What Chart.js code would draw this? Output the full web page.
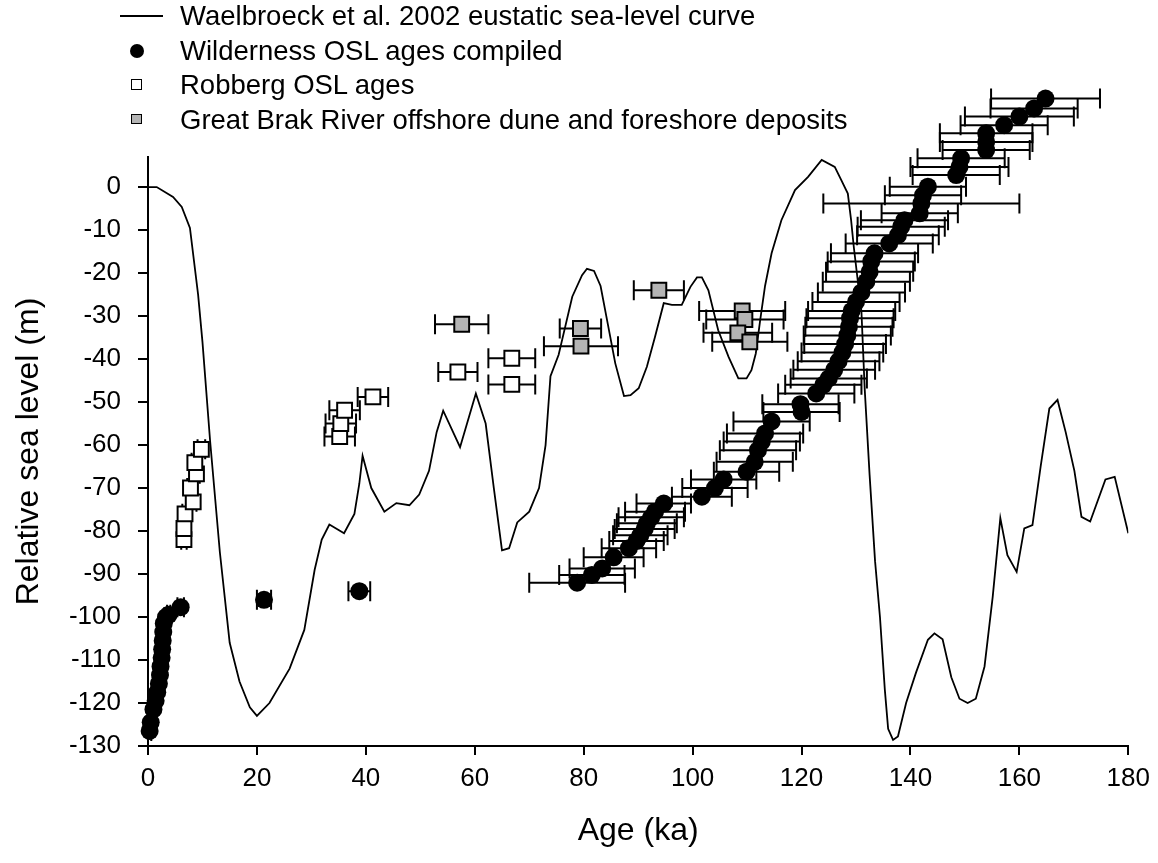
<!DOCTYPE html>
<html>
<head>
<meta charset="utf-8">
<script src="https://cdn.jsdelivr.net/npm/chart.js@4"></script>
<style>
  body { margin: 0; background: #fff; font-family: "Liberation Sans", Arial, sans-serif; }
  #wrap { position: relative; width: 1158px; height: 863px; }
  #legend { position: absolute; left: 114px; top: -1px; font-size: 27.5px; color: #000; }
  #legend .row { height: 34.5px; line-height: 34.5px; display: flex; align-items: center; white-space: nowrap; }
  #legend .sym { width: 66px; height: 34px; position: relative; display: inline-block; }
  #legend .line { position: absolute; left: 6px; top: 16px; width: 43px; border-top: 2px solid #000; }
  #legend .dot { position: absolute; left: 16px; top: 10px; width: 14px; height: 14px; border-radius: 50%; background: #000; }
  #legend .sq { position: absolute; left: 17px; top: 11px; width: 8.5px; height: 8.5px; border: 1.5px solid #000; }
</style>
</head>
<body>
<div id="wrap">
  <canvas id="chart" width="1158" height="863"></canvas>
  <div id="legend">
    <div class="row"><span class="sym"><span class="line"></span></span>Waelbroeck et al. 2002 eustatic sea-level curve</div>
    <div class="row"><span class="sym"><span class="dot"></span></span>Wilderness OSL ages compiled</div>
    <div class="row"><span class="sym"><span class="sq" style="background:#fff"></span></span>Robberg OSL ages</div>
    <div class="row"><span class="sym"><span class="sq" style="background:#b4b4b4"></span></span>Great Brak River offshore dune and foreshore deposits</div>
  </div>
</div>
<script>
// Waelbroeck et al. 2002 curve (age ka, sea level m)
const curveAge = [0, 1.6, 4.6, 6.2, 7.7, 9.2, 10, 11.4, 13.2, 15, 16.8, 18.7, 20, 22.3, 26, 28.7, 30.6, 31.9, 33.3, 36, 37.9, 38.8, 39.4, 41, 43.4, 45.6, 48, 49.8, 51.6, 53, 54.2, 57.3, 60.2, 62, 63.5, 65, 66.3, 67.8, 70, 71.8, 73, 73.9, 75.4, 77.9, 79.7, 80.6, 81.9, 83.1, 84.3, 85.8, 87.4, 88.6, 90.1, 91.6, 93.1, 94.7, 96.2, 98, 99.6, 100.8, 101.7, 102.9, 104.7, 106.6, 108.4, 109.9, 110.8, 111.6, 112.4, 113.3, 114.5, 116.3, 118.8, 121.2, 123.7, 126.1, 127.3, 128.5, 129.1, 129.6, 131, 131.6, 132.5, 133.5, 134.4, 135.3, 135.9, 136.8, 137.7, 139.2, 141, 143.2, 144.4, 145.9, 147.5, 149, 150.5, 152, 153.6, 155.1, 156.5, 157.8, 159.5, 160.9, 162.4, 163.9, 165.5, 167, 168.5, 170.1, 171.4, 173, 175.8, 177.5, 180];
const curveLevel = [0, 0, -2.3, -4.6, -9.5, -25, -36, -59, -85, -106, -115, -121, -123, -120, -112, -103, -89, -82, -78.5, -80.5, -76, -69, -62.5, -70, -75.5, -73.5, -74, -71.5, -66, -57, -52, -60.5, -48, -55, -70, -84.5, -84, -78, -75.5, -70, -60, -44, -39, -25.5, -20.5, -19, -19.5, -23, -31, -41, -48.6, -48.4, -46.8, -41.8, -34.8, -27, -27.4, -27.4, -23.2, -21, -21, -24, -33.3, -39.5, -44.5, -44.5, -42.6, -38.7, -31, -23, -15.4, -7.7, -0.7, 2.4, 6.3, 4.7, 1.6, -1.5, -7.7, -14, -29, -47, -67, -87, -100, -117, -126, -128.6, -127.8, -120, -113, -105.3, -103.8, -105.2, -114, -119, -120, -119, -111.5, -95.3, -77, -85.6, -89.5, -79.4, -78.6, -65, -51.5, -49.5, -57, -66, -76.7, -77.8, -68, -67.4, -80.5];

// Wilderness OSL ages compiled
const wildAge = [0.3, 0.5, 1.0, 1.4, 1.7, 2.0, 2.2, 2.3, 2.5, 2.6, 2.7, 2.8, 2.9, 3.3, 3.8, 6.0, 21.3, 38.8,
  78.8, 81.5, 83.4, 85.5, 88.3, 89.7, 90.4, 91.2, 91.6, 92.4, 93.1, 94.7, 101.7, 104.1, 105.7, 109.9, 111.4, 112, 112.7, 113.3, 114.5,
  120, 119.8, 122.7, 124, 125, 126, 126.8, 127.5, 128, 128.4, 128.7, 128.9, 129.2, 130, 131, 131.9, 132.5, 132.8, 133.4, 136.1, 137.7, 138.3, 138.9,
  141.7, 142, 142.3, 143.2, 148.4, 149, 149.3, 153.9, 153.9, 153.9, 157.2, 160, 162.7, 164.8];
const wildLevel = [-126.5, -124.5, -121.5, -119.5, -117.5, -115.5, -113.5, -111.5, -109.5, -107.5, -105.5, -103.5, -101.5, -100, -99.5, -97.7, -96, -94,
  -92, -90.2, -88.7, -86.1, -84, -82.3, -81, -79.5, -78.2, -76.8, -75.5, -73.6, -72, -70, -68, -66.2, -63.9, -61.2, -59.2, -57.3, -54.5,
  -52.3, -50.5, -48, -46, -44.5, -42.5, -40.5, -38.5, -36.5, -34.5, -32.5, -30.5, -28.8, -26.7, -24.5, -22, -19.7, -17.3, -15.4, -13.1, -11.2, -9.2, -7.7,
  -6.1, -3.8, -1.9, 0.1, 2.8, 4.7, 6.7, 8.6, 10.5, 12.5, 14.4, 16.4, 18.3, 20.6];
const wildErr = [0.3, 0.3, 0.3, 0.3, 0.3, 0.3, 0.3, 0.3, 0.3, 0.3, 0.3, 0.3, 0.3, 0.3, 0.3, 0.6, 1.3, 2.0,
  8.8, 6, 6, 5.5, 5, 5, 5, 5.5, 5.5, 6, 5.5, 5, 5.5, 6, 6, 6, 7, 7, 7, 7, 7,
  7, 7, 7, 7, 7, 7.5, 7.5, 7.5, 7.5, 8, 8, 8, 8, 8, 8, 8, 8, 8, 8, 8, 7.5, 8, 8,
  7, 18, 7, 7, 8, 9, 8, 8, 8.5, 8.5, 8, 10, 8, 10];

// Robberg OSL ages
const robAge = [6.6, 6.6, 6.8, 8.3, 7.8, 8.9, 8.6, 9.8, 35.2, 35.4, 36.1, 41.3, 56.9, 66.8, 66.8];
const robLevel = [-82, -79.4, -76, -73.2, -70, -66.7, -64.1, -61, -58, -55, -51.9, -48.8, -43, -39.8, -45.9];
const robErr = [0.5, 0.5, 0.5, 0.6, 0.6, 0.6, 0.6, 0.7, 2.8, 2.8, 2.8, 2.8, 3.6, 4.3, 4.3];

// Great Brak River offshore dune and foreshore deposits
const brakAge = [57.6, 79.4, 79.5, 93.8, 109.1, 109.6, 108.3, 110.5];
const brakLevel = [-31.9, -32.9, -37, -24, -28.8, -30.8, -33.9, -36];
const brakErr = [4.9, 3.8, 6.8, 4.6, 7.9, 7.1, 6.3, 6.9];

const xTicks = [0, 20, 40, 60, 80, 100, 120, 140, 160, 180];
const yTicks = [-130, -120, -110, -100, -90, -80, -70, -60, -50, -40, -30, -20, -10, 0];

const toPoints = (xs, ys) => xs.map((v, i) => ({ x: v, y: ys[i] }));
const FONT = "'Liberation Sans', Arial, sans-serif";

// horizontal error bars, drawn just before each scatter dataset's markers
// (datasets with clip:false also get their markers drawn above the plot top)
const errorBars = {
  id: 'errorBars',
  beforeDatasetDraw(chart, args) {
    const ds = chart.data.datasets[args.index];
    if (ds.clip === false) {
      chart._plotArea = chart.chartArea;
      chart.chartArea = Object.assign({}, chart.chartArea, { top: 0 });
    }
    if (!ds.xErr) return;
    const xs = chart.scales.x, ys = chart.scales.y, ctx = chart.ctx;
    ctx.save();
    ctx.strokeStyle = '#000';
    ctx.lineWidth = 2;
    ds.data.forEach((p, i) => {
      const x0 = xs.getPixelForValue(p.x - ds.xErr[i]);
      const x1 = xs.getPixelForValue(p.x + ds.xErr[i]);
      const py = ys.getPixelForValue(p.y);
      ctx.beginPath();
      ctx.moveTo(x0, py); ctx.lineTo(x1, py);
      ctx.moveTo(x0, py - 10); ctx.lineTo(x0, py + 10);
      ctx.moveTo(x1, py - 10); ctx.lineTo(x1, py + 10);
      ctx.stroke();
    });
    ctx.restore();
  },
  afterDatasetDraw(chart) {
    if (chart._plotArea) {
      chart.chartArea = chart._plotArea;
      chart._plotArea = null;
    }
  }
};

new Chart(document.getElementById('chart'), {
  type: 'scatter',
  data: {
    datasets: [
      {
        type: 'line',
        label: 'Waelbroeck et al. 2002 eustatic sea-level curve',
        data: toPoints(curveAge, curveLevel),
        borderColor: '#000',
        borderWidth: 1.8,
        pointRadius: 0,
        tension: 0,
        order: 4
      },
      {
        label: 'Great Brak River offshore dune and foreshore deposits',
        data: toPoints(brakAge, brakLevel),
        xErr: brakErr,
        pointStyle: 'rect',
        pointRadius: 10.5,
        backgroundColor: '#b4b4b4',
        borderColor: '#000',
        borderWidth: 2,
        order: 3
      },
      {
        label: 'Robberg OSL ages',
        data: toPoints(robAge, robLevel),
        xErr: robErr,
        pointStyle: 'rect',
        pointRadius: 10.5,
        backgroundColor: '#fff',
        borderColor: '#000',
        borderWidth: 2,
        order: 2
      },
      {
        label: 'Wilderness OSL ages compiled',
        data: toPoints(wildAge, wildLevel),
        xErr: wildErr,
        pointStyle: 'circle',
        pointRadius: 9,
        backgroundColor: '#000',
        borderColor: '#000',
        borderWidth: 0,
        clip: false,
        order: 1
      }
    ]
  },
  options: {
    responsive: false,
    animation: false,
    layout: { padding: { top: 157, right: 27, left: 0, bottom: 0 } },
    plugins: { legend: { display: false }, tooltip: { enabled: false } },
    scales: {
      x: {
        type: 'linear',
        min: 0,
        max: 180,
        afterBuildTicks: s => { s.ticks = xTicks.map(v => ({ value: v })); },
        afterFit: s => { s.height = 117; },
        border: { color: '#000', width: 2 },
        grid: { drawOnChartArea: false, drawTicks: true, tickLength: 9, color: '#000', lineWidth: 2 },
        ticks: { color: '#000', padding: 8, maxRotation: 0, font: { family: FONT, size: 26 } },
        title: { display: true, text: 'Age (ka)', color: '#000', padding: { top: 0, bottom: 13 }, font: { family: FONT, size: 32 } }
      },
      y: {
        type: 'linear',
        min: -130,
        max: 7,
        afterBuildTicks: s => { s.ticks = yTicks.map(v => ({ value: v })); },
        afterFit: s => { s.width = 148; },
        border: { color: '#000', width: 2 },
        grid: { drawOnChartArea: false, drawTicks: true, tickLength: 10, color: '#000', lineWidth: 2 },
        ticks: { color: '#000', padding: 17, font: { family: FONT, size: 26 } },
        title: { display: true, text: 'Relative sea level (m)', color: '#000', padding: { top: 10, bottom: 0 }, font: { family: FONT, size: 32 } }
      }
    }
  },
  plugins: [errorBars]
});
</script>
</body>
</html>
